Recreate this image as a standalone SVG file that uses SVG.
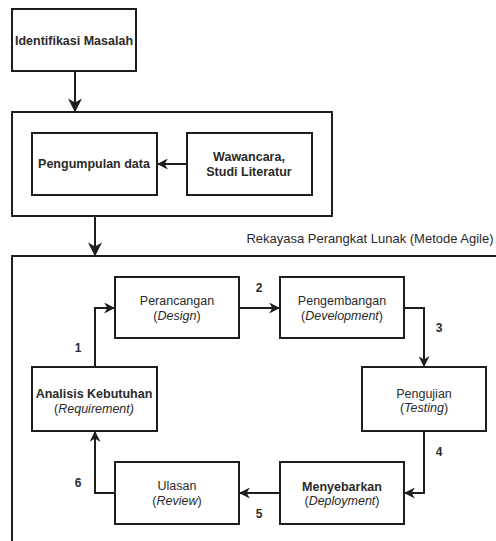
<svg xmlns="http://www.w3.org/2000/svg" width="496" height="541" viewBox="0 0 496 541">
<defs>
<style>
.box{fill:#fff;stroke:#1e1e1e;stroke-width:2}
.frame{fill:none;stroke:#1e1e1e;stroke-width:2}
.t{font-family:"Liberation Sans",Arial,sans-serif;font-size:12.5px;fill:#2a2a2a;text-anchor:middle}
.b{font-weight:bold}
.lbl{font-family:"Liberation Sans",Arial,sans-serif;font-size:12px;font-weight:bold;fill:#2a2a2a;text-anchor:middle}
.c{fill:none;stroke:#1e1e1e;stroke-width:2}
</style>
<marker id="ahb" viewBox="0 0 10 10" refX="9" refY="5" markerWidth="14" markerHeight="14" orient="auto" markerUnits="userSpaceOnUse">
<path d="M0,0 L10,5 L0,10 L3,5 Z" fill="#1e1e1e"/>
</marker>
<marker id="ahm" viewBox="0 0 10 10" refX="9" refY="5" markerWidth="11" markerHeight="11" orient="auto" markerUnits="userSpaceOnUse">
<path d="M0,0 L10,5 L0,10 L3,5 Z" fill="#1e1e1e"/>
</marker>
</defs>
<rect width="496" height="541" fill="#fff"/>

<g id="identifikasi">
<rect class="box" x="12" y="9" width="124" height="62"/>
<text class="t b" x="74" y="45">Identifikasi Masalah</text>
</g>

<g id="pengumpulan-frame">
<rect class="frame" x="12" y="112" width="320" height="104"/>
</g>

<g id="pengumpulan">
<rect class="box" x="32" y="133" width="125" height="62"/>
<text class="t b" x="94" y="168">Pengumpulan data</text>
</g>

<g id="wawancara">
<rect class="box" x="187" y="133" width="125" height="62"/>
<text class="t b" x="249" y="161">Wawancara,</text>
<text class="t b" x="249" y="176">Studi Literatur</text>
</g>

<g id="agile-frame">
<path class="frame" d="M12,545 L12,256 L500,256"/>
<text class="t" x="370" y="243" style="font-size:13px">Rekayasa Perangkat Lunak (Metode Agile)</text>
</g>

<g id="perancangan">
<rect class="box" x="115" y="277" width="124" height="61"/>
<text class="t" x="177" y="305">Perancangan</text>
<text class="t" x="177" y="320">(<tspan font-style="italic">Design</tspan>)</text>
</g>

<g id="pengembangan">
<rect class="box" x="280" y="277" width="124" height="61"/>
<text class="t" x="342" y="305">Pengembangan</text>
<text class="t" x="342" y="320">(<tspan font-style="italic">Development</tspan>)</text>
</g>

<g id="pengujian">
<rect class="box" x="362" y="367" width="124" height="64"/>
<text class="t" x="424" y="398">Pengujian</text>
<text class="t" x="424" y="412">(<tspan font-style="italic">Testing</tspan>)</text>
</g>

<g id="analisis">
<rect class="box" x="32" y="367" width="125" height="64"/>
<text class="t b" x="94" y="398">Analisis Kebutuhan</text>
<text class="t" x="94" y="413">(<tspan font-style="italic">Requirement)</tspan></text>
</g>

<g id="menyebarkan">
<rect class="box" x="280" y="462" width="124" height="62"/>
<text class="t b" x="342" y="491">Menyebarkan</text>
<text class="t" x="342" y="505">(<tspan font-style="italic">Deployment</tspan>)</text>
</g>

<g id="ulasan">
<rect class="box" x="115" y="462" width="124" height="62"/>
<text class="t" x="177" y="490">Ulasan</text>
<text class="t" x="177" y="505">(<tspan font-style="italic">Review</tspan>)</text>
</g>

<g id="connectors">
<path class="c" d="M75,71 L75,111" stroke-width="3" marker-end="url(#ahb)"/>
<path class="c" d="M187,164 L158,164" marker-end="url(#ahm)"/>
<path class="c" d="M95,216 L95,255" stroke-width="3" marker-end="url(#ahb)"/>
<path class="c" d="M95,367 L95,308 L114,308" marker-end="url(#ahm)"/>
<path class="c" d="M239,308 L279,308" marker-end="url(#ahm)"/>
<path class="c" d="M404,308 L424,308 L424,366" marker-end="url(#ahm)"/>
<path class="c" d="M424,431 L424,493 L405,493" marker-end="url(#ahm)"/>
<path class="c" d="M280,493 L240,493" marker-end="url(#ahm)"/>
<path class="c" d="M115,493 L95,493 L95,432" marker-end="url(#ahm)"/>
<text class="lbl" x="78" y="352">1</text>
<text class="lbl" x="259" y="292">2</text>
<text class="lbl" x="439" y="332">3</text>
<text class="lbl" x="439" y="456">4</text>
<text class="lbl" x="259" y="518">5</text>
<text class="lbl" x="78" y="487">6</text>
</g>
</svg>
